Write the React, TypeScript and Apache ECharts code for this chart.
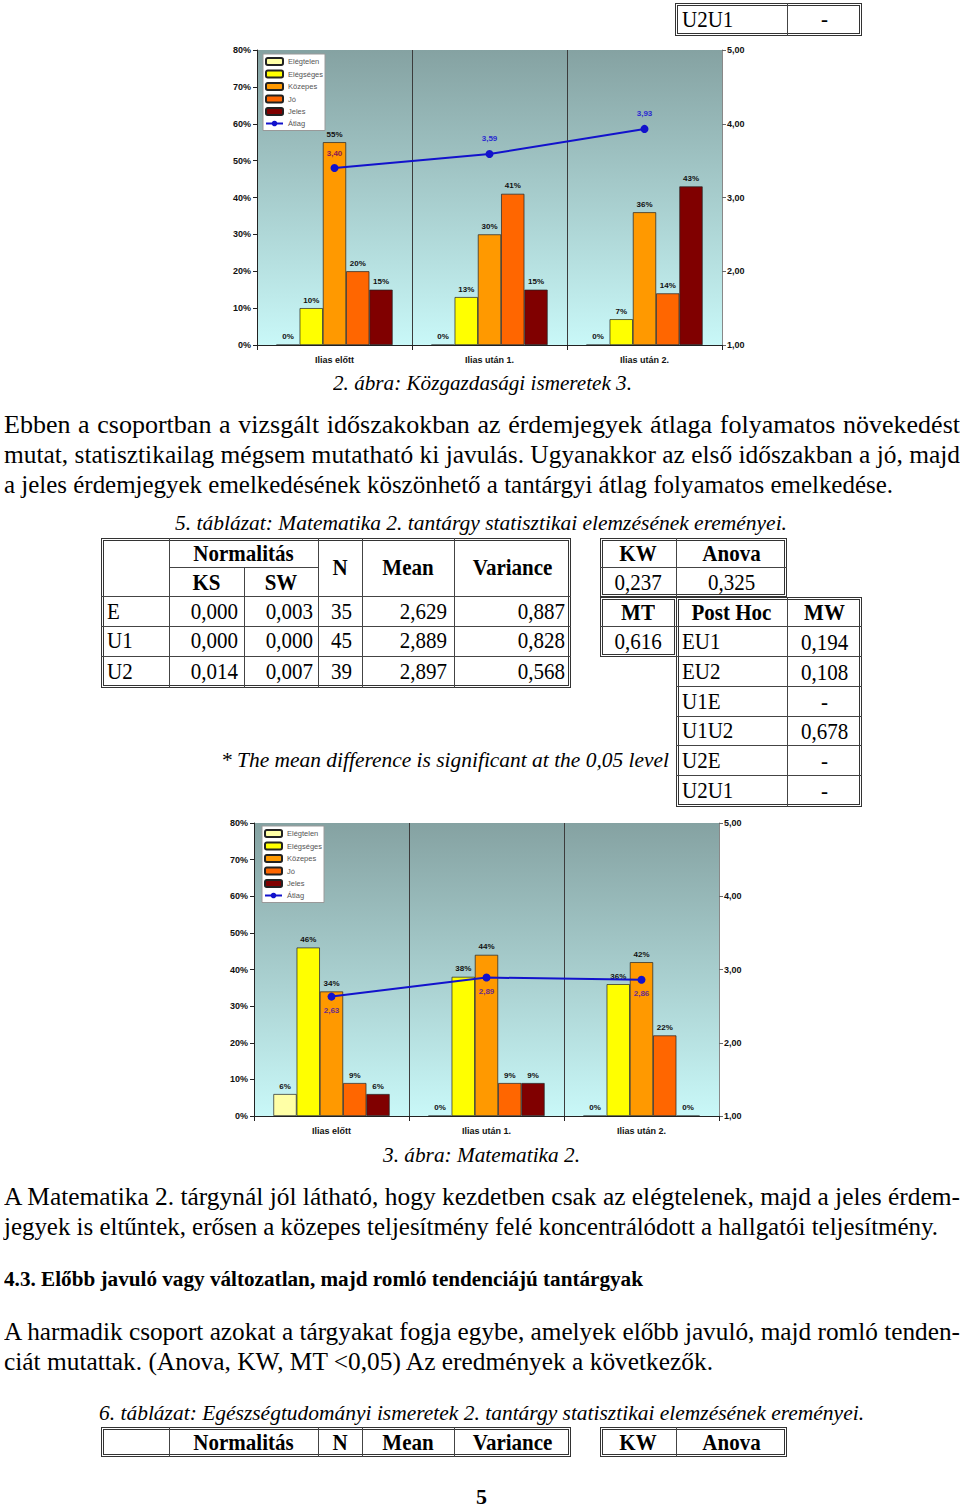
import React, { useEffect, useLayoutEffect, useRef } from "react";
import * as echarts from "echarts";

// ---------- DATA ----------
const categories = ["Ilias előtt", "Ilias után 1.", "Ilias után 2."];
const grades = ["Elégtelen", "Elégséges", "Közepes", "Jó", "Jeles"];
const avgName = "Átlag";

// Figure 2: Közgazdasági ismeretek 3.
const c1Elegtelen = [0, 0, 0];
const c1Elegseges = [10, 13, 7];
const c1Kozepes = [55, 30, 36];
const c1Jo = [20, 41, 14];
const c1Jeles = [15, 15, 43];
const c1Atlag = [3.4, 3.59, 3.93];

// Figure 3: Matematika 2.
const c2Elegtelen = [6, 0, 0];
const c2Elegseges = [46, 38, 36];
const c2Kozepes = [34, 44, 42];
const c2Jo = [9, 9, 22];
const c2Jeles = [6, 9, 0];
const c2Atlag = [2.63, 2.89, 2.86];

const pctTicks = { min: 0, max: 80, interval: 10 };
const avgTicks = { min: 1, max: 5, interval: 1 };

// ---------- STYLES ----------
const gradeColors = ["#ffffa6", "#ffff00", "#ff9900", "#ff6600", "#800000"];
const lineColor = "#1212cc";
const c1AvgLabelColors = ["#8a1a50", "#2a2ad0", "#2a2ad0"];
const c2AvgLabelColor = "#6a2c8c";
const SANS = "'Liberation Sans', Arial, sans-serif";
const SERIF = "'Liberation Serif', 'Times New Roman', serif";

function comma(v: number) {
  return v.toFixed(2).replace(".", ",");
}

function buildOption(
  bars: number[][],
  avg: number[],
  grid: any,
  legendPos: any,
  avgLabel: any,
  avgLabelColors: string[],
  catMargin: number
) {
  const bg = new echarts.graphic.LinearGradient(0, 0, 0, 1, [
    { offset: 0, color: "#85a2a2" },
    { offset: 1, color: "#c9f8f8" },
  ]);
  const barSeries = bars.map((vals, i) => ({
    name: grades[i],
    type: "bar",
    yAxisIndex: 0,
    data: vals,
    barGap: "0%",
    barCategoryGap: "25%",
    itemStyle: { color: gradeColors[i], borderColor: "#222", borderWidth: 0.7 },
    label: {
      show: true,
      position: "top",
      distance: 4,
      formatter: "{c}%",
      fontSize: 8,
      fontWeight: "bold",
      color: "#111",
      fontFamily: SANS,
    },
  }));
  return {
    animation: false,
    textStyle: { fontFamily: SANS },
    legend: {
      ...legendPos,
      orient: "vertical",
      data: [...grades, avgName],
      itemWidth: 17,
      itemHeight: 7,
      itemGap: 3.5,
      padding: [3, 2, 3, 2],
      backgroundColor: "#ffffff",
      borderColor: "#999",
      borderWidth: 1,
      textStyle: { fontSize: 7.5, color: "#555", fontFamily: SANS },
    },
    grid: {
      ...grid,
      show: true,
      backgroundColor: bg,
      borderWidth: 0,
    },
    xAxis: {
      type: "category",
      data: categories,
      axisLine: { show: true, lineStyle: { color: "#222", width: 1 } },
      axisTick: { show: true, length: 5, lineStyle: { color: "#222" } },
      axisLabel: { fontSize: 9, fontWeight: "bold", color: "#111", margin: catMargin },
      splitLine: { show: true, lineStyle: { color: "#3c3c3c", width: 1 } },
    },
    yAxis: [
      {
        type: "value",
        ...pctTicks,
        axisLine: { show: true, lineStyle: { color: "#222" } },
        axisTick: { show: true, length: 4, lineStyle: { color: "#222" } },
        axisLabel: { formatter: "{value}%", fontSize: 9, fontWeight: "bold", color: "#111", margin: 6 },
        splitLine: { show: false },
      },
      {
        type: "value",
        ...avgTicks,
        position: "right",
        axisLine: { show: true, lineStyle: { color: "#888" } },
        axisTick: { show: true, length: 4, lineStyle: { color: "#666" } },
        axisLabel: { formatter: (v: number) => comma(v), fontSize: 9, fontWeight: "bold", color: "#111", margin: 5 },
        splitLine: { show: false },
      },
    ],
    series: [
      ...barSeries,
      {
        name: avgName,
        type: "line",
        yAxisIndex: 1,
        data: avg.map((v, i) => ({ value: v, label: { color: avgLabelColors[i] } })),
        symbol: "circle",
        symbolSize: 8,
        z: 5,
        lineStyle: { color: lineColor, width: 2 },
        itemStyle: { color: lineColor },
        label: {
          show: true,
          ...avgLabel,
          formatter: (p: any) => comma(p.value),
          fontSize: 8,
          fontWeight: "bold",
          fontFamily: SANS,
        },
      },
    ],
  };
}

function EChart({ style, option }: { style: React.CSSProperties; option: any }) {
  const ref = useRef<HTMLDivElement>(null);
  useEffect(() => {
    if (!ref.current) return;
    const chart = echarts.init(ref.current, undefined, { renderer: "svg" });
    chart.setOption(option);
    return () => chart.dispose();
  }, []);
  return <div ref={ref} style={style} />;
}

// Text line fitted to a known horizontal extent
function Txt({
  x,
  yc,
  w,
  size,
  bold,
  italic,
  justify,
  lh,
  children,
}: {
  x: number;
  yc: number;
  w: number;
  size: number;
  bold?: boolean;
  italic?: boolean;
  justify?: boolean;
  lh?: number;
  children: string;
}) {
  const ref = useRef<HTMLSpanElement>(null);
  useLayoutEffect(() => {
    const el = ref.current;
    if (!el) return;
    el.style.transform = "";
    el.style.wordSpacing = "";
    const nat = el.getBoundingClientRect().width;
    if (!nat) return;
    if (justify) {
      const spaces = (el.textContent || "").split(" ").length - 1;
      const extra = w - nat;
      if (extra >= 0 && spaces > 0) {
        el.style.wordSpacing = extra / spaces + "px";
        return;
      }
    }
    el.style.transform = `scaleX(${w / nat})`;
  }, []);
  const h = lh || Math.round(size * 1.25);
  return (
    <div
      style={{
        position: "absolute",
        left: x,
        top: yc - h / 2,
        height: h,
        lineHeight: h + "px",
        fontSize: size,
        fontWeight: bold ? "bold" : "normal",
        fontStyle: italic ? "italic" : "normal",
        whiteSpace: "nowrap",
        fontFamily: SERIF,
        color: "#000",
      }}
    >
      <span ref={ref} style={{ display: "inline-block", transformOrigin: "0 50%" }}>
        {children}
      </span>
    </div>
  );
}

function Cell({
  x1,
  x2,
  yc,
  text,
  align = "center",
  bold,
  pad = 6,
}: {
  x1: number;
  x2: number;
  yc: number;
  text: string;
  align?: "left" | "center" | "right";
  bold?: boolean;
  pad?: number;
}) {
  const h = 26;
  return (
    <div
      style={{
        position: "absolute",
        left: x1,
        width: x2 - x1,
        top: yc - h / 2,
        height: h,
        lineHeight: h + "px",
        textAlign: align,
        paddingLeft: align === "left" ? pad : 0,
        paddingRight: align === "right" ? pad : 0,
        boxSizing: "border-box",
        fontSize: 21,
        fontFamily: SERIF,
        fontWeight: bold ? "bold" : "normal",
        whiteSpace: "nowrap",
        color: "#000",
        transform: "scaleY(1.12)",
      }}
    >
      {text}
    </div>
  );
}

function Box({ x1, y1, x2, y2 }: { x1: number; y1: number; x2: number; y2: number }) {
  return (
    <div
      style={{
        position: "absolute",
        left: x1,
        top: y1,
        width: x2 - x1,
        height: y2 - y1,
        border: "3px double #333",
        boxSizing: "border-box",
      }}
    />
  );
}
function HL({ x1, x2, y }: { x1: number; x2: number; y: number }) {
  return <div style={{ position: "absolute", left: x1, top: y, width: x2 - x1, height: 1, background: "#444" }} />;
}
function VL({ x, y1, y2 }: { x: number; y1: number; y2: number }) {
  return <div style={{ position: "absolute", left: x, top: y1, width: 1, height: y2 - y1, background: "#444" }} />;
}

export default function App() {
  const option1 = buildOption(
    [c1Elegtelen, c1Elegseges, c1Kozepes, c1Jo, c1Jeles],
    c1Atlag,
    { left: 37, top: 10, width: 465, height: 295 },
    { left: 43, top: 14 },
    { position: "top", distance: 7 },
    c1AvgLabelColors,
    10
  );
  const option2 = buildOption(
    [c2Elegtelen, c2Elegseges, c2Kozepes, c2Jo, c2Jeles],
    c2Atlag,
    { left: 34, top: 8, width: 465, height: 293 },
    { left: 42, top: 11 },
    { position: "bottom", distance: 6 },
    [c2AvgLabelColor, c2AvgLabelColor, c2AvgLabelColor],
    10
  );

  return (
    <div style={{ position: "absolute", left: 0, top: 0, width: 960, height: 1507, background: "#fff", overflow: "hidden" }}>
      {/* fragment of previous table */}
      <Box x1={675} y1={3} x2={862} y2={36} />
      <VL x={787} y1={3} y2={36} />
      <Cell x1={676} x2={787} yc={19} text="U2U1" align="left" />
      <Cell x1={787} x2={862} yc={19} text="-" />

      {/* Chart 1 */}
      <EChart style={{ position: "absolute", left: 220, top: 40, width: 540, height: 335 }} option={option1} />
      <Txt x={333} yc={383} w={299} size={22} italic>
        2. ábra: Közgazdasági ismeretek 3.
      </Txt>

      <Txt x={4} yc={424} w={956} size={26} justify>
        Ebben a csoportban a vizsgált időszakokban az érdemjegyek átlaga folyamatos növekedést
      </Txt>
      <Txt x={4} yc={454} w={956} size={26} justify>
        mutat, statisztikailag mégsem mutatható ki javulás. Ugyanakkor az első időszakban a jó, majd
      </Txt>
      <Txt x={4} yc={484} w={889} size={26}>
        a jeles érdemjegyek emelkedésének köszönhető a tantárgyi átlag folyamatos emelkedése.
      </Txt>

      <Txt x={175} yc={523} w={612} size={22} italic>
        5. táblázat: Matematika 2. tantárgy statisztikai elemzésének ereményei.
      </Txt>

      {/* Table 5 left */}
      <Box x1={101} y1={538} x2={571} y2={688} />
      <VL x={169} y1={538} y2={688} />
      <VL x={244} y1={567} y2={688} />
      <VL x={318} y1={538} y2={688} />
      <VL x={362} y1={538} y2={688} />
      <VL x={454} y1={538} y2={688} />
      <HL x1={169} x2={318} y={567} />
      <HL x1={101} x2={571} y={596} />
      <HL x1={101} x2={571} y={626} />
      <HL x1={101} x2={571} y={656} />
      <Cell x1={169} x2={318} yc={553} text="Normalitás" bold />
      <Cell x1={169} x2={244} yc={582} text="KS" bold />
      <Cell x1={244} x2={318} yc={582} text="SW" bold />
      <Cell x1={318} x2={362} yc={567} text="N" bold />
      <Cell x1={362} x2={454} yc={567} text="Mean" bold />
      <Cell x1={454} x2={571} yc={567} text="Variance" bold />

      <Cell x1={101} x2={169} yc={611} text="E" align="left" />
      <Cell x1={169} x2={244} yc={611} text="0,000" align="right" />
      <Cell x1={244} x2={318} yc={611} text="0,003" align="right" pad={5} />
      <Cell x1={318} x2={362} yc={611} text="35" align="right" pad={10} />
      <Cell x1={362} x2={454} yc={611} text="2,629" align="right" pad={7} />
      <Cell x1={454} x2={571} yc={611} text="0,887" align="right" />

      <Cell x1={101} x2={169} yc={640} text="U1" align="left" />
      <Cell x1={169} x2={244} yc={640} text="0,000" align="right" />
      <Cell x1={244} x2={318} yc={640} text="0,000" align="right" pad={5} />
      <Cell x1={318} x2={362} yc={640} text="45" align="right" pad={10} />
      <Cell x1={362} x2={454} yc={640} text="2,889" align="right" pad={7} />
      <Cell x1={454} x2={571} yc={640} text="0,828" align="right" />

      <Cell x1={101} x2={169} yc={671} text="U2" align="left" />
      <Cell x1={169} x2={244} yc={671} text="0,014" align="right" />
      <Cell x1={244} x2={318} yc={671} text="0,007" align="right" pad={5} />
      <Cell x1={318} x2={362} yc={671} text="39" align="right" pad={10} />
      <Cell x1={362} x2={454} yc={671} text="2,897" align="right" pad={7} />
      <Cell x1={454} x2={571} yc={671} text="0,568" align="right" />

      {/* Table 5 right */}
      <Box x1={600} y1={538} x2={787} y2={597} />
      <VL x={676} y1={538} y2={597} />
      <HL x1={600} x2={787} y={567} />
      <Cell x1={600} x2={676} yc={553} text="KW" bold />
      <Cell x1={676} x2={787} yc={553} text="Anova" bold />
      <Cell x1={600} x2={676} yc={582} text="0,237" />
      <Cell x1={676} x2={787} yc={582} text="0,325" />

      <Box x1={600} y1={597} x2={677} y2={657} />
      <HL x1={600} x2={676} y={626} />
      <Box x1={676} y1={597} x2={862} y2={807} />
      <VL x={787} y1={597} y2={807} />
      <HL x1={676} x2={862} y={626} />
      <HL x1={676} x2={862} y={656} />
      <HL x1={676} x2={862} y={686} />
      <HL x1={676} x2={862} y={716} />
      <HL x1={676} x2={862} y={745} />
      <HL x1={676} x2={862} y={775} />
      <Cell x1={600} x2={676} yc={612} text="MT" bold />
      <Cell x1={676} x2={787} yc={612} text="Post Hoc" bold />
      <Cell x1={787} x2={862} yc={612} text="MW" bold />
      <Cell x1={600} x2={676} yc={641} text="0,616" />
      <Cell x1={676} x2={787} yc={641} text="EU1" align="left" />
      <Cell x1={787} x2={862} yc={642} text="0,194" />
      <Cell x1={676} x2={787} yc={671} text="EU2" align="left" />
      <Cell x1={787} x2={862} yc={672} text="0,108" />
      <Cell x1={676} x2={787} yc={701} text="U1E" align="left" />
      <Cell x1={787} x2={862} yc={702} text="-" />
      <Cell x1={676} x2={787} yc={730} text="U1U2" align="left" />
      <Cell x1={787} x2={862} yc={731} text="0,678" />
      <Cell x1={676} x2={787} yc={760} text="U2E" align="left" />
      <Cell x1={787} x2={862} yc={761} text="-" />
      <Cell x1={676} x2={787} yc={790} text="U2U1" align="left" />
      <Cell x1={787} x2={862} yc={791} text="-" />

      <Txt x={221} yc={760} w={448} size={22} italic>
        * The mean difference is significant at the 0,05 level
      </Txt>

      {/* Chart 2 */}
      <EChart style={{ position: "absolute", left: 220, top: 815, width: 540, height: 328 }} option={option2} />
      <Txt x={383} yc={1155} w={197} size={22} italic>
        3. ábra: Matematika 2.
      </Txt>

      <Txt x={4} yc={1196} w={956} size={26} justify>
        A Matematika 2. tárgynál jól látható, hogy kezdetben csak az elégtelenek, majd a jeles érdem-
      </Txt>
      <Txt x={4} yc={1226} w={934} size={26}>
        jegyek is eltűntek, erősen a közepes teljesítmény felé koncentrálódott a hallgatói teljesítmény.
      </Txt>

      <Txt x={4} yc={1279} w={639} size={20} bold>
        4.3. Előbb javuló vagy változatlan, majd romló tendenciájú tantárgyak
      </Txt>

      <Txt x={4} yc={1331} w={956} size={26} justify>
        A harmadik csoport azokat a tárgyakat fogja egybe, amelyek előbb javuló, majd romló tenden-
      </Txt>
      <Txt x={4} yc={1361} w={709} size={26}>
        ciát mutattak. (Anova, KW, MT &lt;0,05) Az eredmények a következők.
      </Txt>

      <Txt x={99} yc={1413} w={765} size={22} italic>
        6. táblázat: Egészségtudományi ismeretek 2. tantárgy statisztikai elemzésének ereményei.
      </Txt>

      {/* Table 6 header */}
      <Box x1={101} y1={1427} x2={571} y2={1457} />
      <VL x={169} y1={1427} y2={1457} />
      <VL x={318} y1={1427} y2={1457} />
      <VL x={362} y1={1427} y2={1457} />
      <VL x={454} y1={1427} y2={1457} />
      <Cell x1={169} x2={318} yc={1442} text="Normalitás" bold />
      <Cell x1={318} x2={362} yc={1442} text="N" bold />
      <Cell x1={362} x2={454} yc={1442} text="Mean" bold />
      <Cell x1={454} x2={571} yc={1442} text="Variance" bold />
      <Box x1={600} y1={1427} x2={787} y2={1457} />
      <VL x={676} y1={1427} y2={1457} />
      <Cell x1={600} x2={676} yc={1442} text="KW" bold />
      <Cell x1={676} x2={787} yc={1442} text="Anova" bold />

      <Txt x={476} yc={1497} w={11} size={20} bold lh={16}>
        5
      </Txt>
    </div>
  );
}
